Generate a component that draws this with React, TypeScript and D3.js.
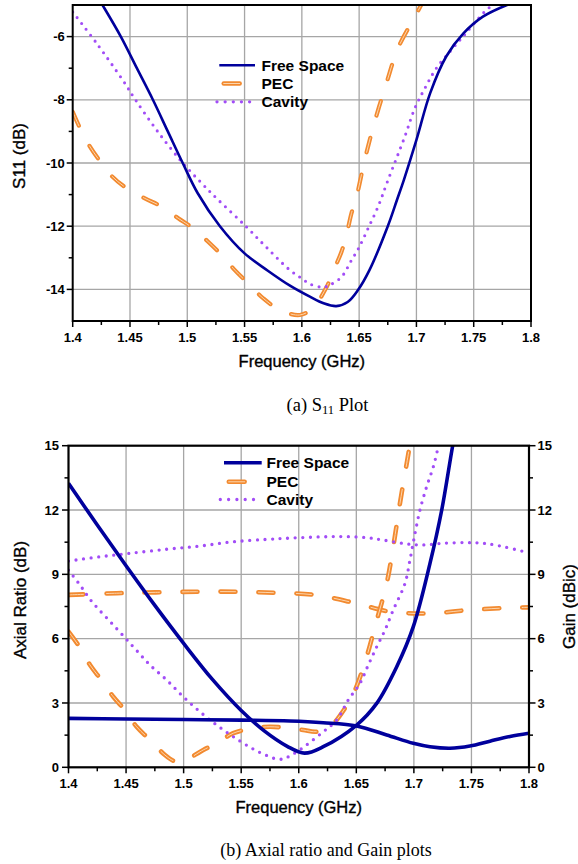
import React from 'react';
import * as d3 from 'd3';

type Pt = [number, number];

// ---------- tick definitions ----------
const xTickValues = [1.4, 1.45, 1.5, 1.55, 1.6, 1.65, 1.7, 1.75, 1.8];
const xTickLabels = ["1.4", "1.45", "1.5", "1.55", "1.6", "1.65", "1.7", "1.75", "1.8"];
const xMinorTicks = [1.425, 1.475, 1.525, 1.575, 1.625, 1.675, 1.725, 1.775];
const s11TickValues = [-6, -8, -10, -12, -14];
const s11TickLabels = ["-6", "-8", "-10", "-12", "-14"];
const s11MinorTicks = [-7, -9, -11, -13];
const arTickValues = [0, 3, 6, 9, 12, 15];
const arTickLabels = ["0", "3", "6", "9", "12", "15"];
const arMinorTicks = [1.5, 4.5, 7.5, 10.5, 13.5];
const legendLabels = ["Free Space", "PEC", "Cavity"];

// ---------- (a) S11 data ----------
const s11FreeSpace: Pt[] = [
  [1.40, -3.4], [1.41, -4.05], [1.426, -5.0], [1.442, -6.0], [1.456, -7.0], [1.470, -8.0],
  [1.483, -9.0], [1.496, -10.0], [1.509, -10.95], [1.5285, -12.0], [1.55, -12.86], [1.57, -13.4],
  [1.59, -13.89], [1.607, -14.23], [1.619, -14.44], [1.630, -14.53], [1.640, -14.4], [1.649, -14.02],
  [1.659, -13.39], [1.675, -12.0], [1.683, -11.17], [1.689, -10.54], [1.700, -9.27], [1.712, -7.79],
  [1.726, -6.63], [1.741, -5.9], [1.758, -5.37], [1.779, -5.0], [1.80, -4.75],
];
const s11PEC: Pt[] = [
  [1.40, -8.38], [1.4064, -8.9], [1.4145, -9.45], [1.4238, -9.94], [1.434, -10.41], [1.4471, -10.8],
  [1.463, -11.12], [1.4776, -11.38], [1.4921, -11.75], [1.5052, -12.07], [1.5182, -12.49],
  [1.5299, -12.91], [1.5415, -13.39], [1.5531, -13.81], [1.5662, -14.28], [1.5808, -14.65],
  [1.5982, -14.81], [1.6098, -14.58], [1.6215, -13.93], [1.6272, -13.44], [1.6346, -12.81],
  [1.6389, -12.28], [1.6433, -11.59], [1.6477, -11.07], [1.6549, -9.9], [1.6636, -8.69],
  [1.6738, -7.48], [1.6839, -6.37], [1.70, -5.28], [1.71, -4.6],
];
const s11Cavity: Pt[] = [
  [1.40, -5.22], [1.4209, -6.21], [1.4441, -7.4], [1.4544, -7.98], [1.4733, -8.96], [1.4951, -9.96],
  [1.5126, -10.64], [1.5257, -11.12], [1.551, -12.0], [1.57, -12.7], [1.5896, -13.39], [1.5998, -13.65],
  [1.607, -13.83], [1.6186, -13.93], [1.6245, -13.86], [1.6347, -13.6], [1.6434, -13.07],
  [1.6492, -12.72], [1.6578, -12.07], [1.6665, -11.38], [1.6752, -10.54], [1.6898, -9.17],
  [1.6986, -8.27], [1.7073, -7.64], [1.7174, -7.0], [1.7305, -6.42], [1.7406, -6.0], [1.7493, -5.63],
  [1.761, -5.16], [1.7668, -5.0], [1.78, -4.7],
];

// ---------- (b) Axial ratio data ----------
const arFreeSpace: Pt[] = [
  [1.40, 13.25], [1.425, 11.3], [1.45, 9.4], [1.475, 7.55], [1.50, 5.78], [1.525, 4.1],
  [1.55, 2.65], [1.57, 1.7], [1.59, 0.98], [1.605, 0.66], [1.6213, 0.96],
  [1.6503, 1.97], [1.6677, 2.98], [1.6851, 4.69], [1.6995, 6.56], [1.714, 9.51], [1.7242, 12.0],
  [1.7337, 15.0], [1.74, 16.8],
];
const arPEC: Pt[] = [
  [1.40, 6.33], [1.4085, 5.7], [1.4187, 4.77], [1.4274, 4.15], [1.4389, 3.29], [1.4476, 2.75],
  [1.4592, 1.89], [1.4693, 1.35], [1.4838, 0.57], [1.491, 0.31], [1.4983, 0.26], [1.5171, 0.81],
  [1.5287, 1.12], [1.5431, 1.59], [1.5605, 1.82], [1.575, 1.89], [1.5924, 1.82], [1.6039, 1.74],
  [1.6156, 1.66], [1.6271, 1.89], [1.6401, 2.75], [1.6489, 3.6], [1.659, 5.16], [1.6662, 6.56],
  [1.6764, 8.58], [1.6821, 10.29], [1.6879, 12.31], [1.6938, 14.18], [1.698, 15.5],
];
const arCavity: Pt[] = [
  [1.40, 9.2], [1.41, 8.5], [1.42, 7.75], [1.4389, 6.64], [1.4563, 5.62], [1.4708, 4.77],
  [1.4853, 4.07], [1.4997, 3.29], [1.5142, 2.59], [1.5287, 1.97], [1.5431, 1.43], [1.5591, 0.89],
  [1.5722, 0.55], [1.5837, 0.37], [1.5953, 0.62], [1.6213, 1.66], [1.633, 2.21], [1.643, 3.14],
  [1.6532, 3.92], [1.6604, 4.77], [1.6677, 5.62], [1.6749, 6.4], [1.6821, 7.34], [1.6923, 8.58],
  [1.6966, 9.67], [1.701, 10.91], [1.7053, 12.0], [1.7111, 13.09], [1.7169, 14.02], [1.7212, 14.95],
  [1.725, 15.8],
];

// ---------- (b) Gain data ----------
const gainFreeSpace: Pt[] = [
  [1.40, 2.28], [1.45, 2.25], [1.50, 2.23], [1.55, 2.2], [1.5924, 2.16], [1.6213, 2.08],
  [1.6503, 1.93], [1.6764, 1.51], [1.6995, 1.12], [1.714, 0.96], [1.7313, 0.89], [1.7487, 0.99],
  [1.7661, 1.22], [1.7835, 1.44], [1.80, 1.59],
];
const gainPEC: Pt[] = [
  [1.40, 8.04], [1.4419, 8.12], [1.4757, 8.16], [1.5114, 8.19], [1.5452, 8.19], [1.5794, 8.14],
  [1.6141, 8.04], [1.6474, 7.68], [1.6793, 7.26], [1.714, 7.18], [1.7487, 7.34], [1.7835, 7.44],
  [1.80, 7.46],
];
const gainCavity: Pt[] = [
  [1.40, 9.62], [1.4274, 9.82], [1.4534, 9.98], [1.4853, 10.17], [1.5142, 10.32], [1.5431, 10.52],
  [1.5722, 10.63], [1.5924, 10.69], [1.6213, 10.75], [1.6401, 10.76], [1.659, 10.71], [1.6734, 10.6],
  [1.6938, 10.42], [1.7082, 10.37], [1.7256, 10.45], [1.7459, 10.48], [1.7603, 10.45],
  [1.7777, 10.29], [1.80, 10.0],
];

const FS_COLOR = "#00009C";
const PEC_COLOR = "#F28A30";
const PEC_INNER = "#FCD6AE";
const CAV_COLOR = "#A24DF7";
const GRID = "#A6A6A6";
const SANS = "'Liberation Sans', Arial, sans-serif";
const SERIF = "'Liberation Serif', 'Times New Roman', serif";

type Box = { L: number; R: number; T: number; B: number };

function PecPath({ d, w }: { d: string; w: number }) {
  return (
    <g>
      <path d={d} fill="none" stroke={PEC_COLOR} strokeWidth={w} strokeDasharray="15 23" strokeLinecap="round" />
      <path d={d} fill="none" stroke={PEC_INNER} strokeWidth={1} strokeDasharray="15 23" strokeLinecap="round" />
    </g>
  );
}

function Legend({ lineX1, lineX2, pecX1, pecX2, dotX1, dotX2, textX, baselines, fsW, dotStep }:
  { lineX1: number; lineX2: number; pecX1: number; pecX2: number; dotX1: number; dotX2: number; textX: number; baselines: number[]; fsW: number; dotStep: number }) {
  const ly = baselines.map((b) => b - 5.5);
  return (
    <g>
      <line x1={lineX1} x2={lineX2} y1={ly[0]} y2={ly[0]} stroke={FS_COLOR} strokeWidth={fsW} />
      <line x1={pecX1 + 2} x2={pecX2 - 2} y1={ly[1]} y2={ly[1]} stroke={PEC_COLOR} strokeWidth={4.4} strokeLinecap="round" />
      <line x1={pecX1 + 2} x2={pecX2 - 2} y1={ly[1]} y2={ly[1]} stroke={PEC_INNER} strokeWidth={1} strokeLinecap="round" />
      <line x1={dotX1} x2={dotX2 + 0.5} y1={ly[2]} y2={ly[2]} stroke={CAV_COLOR} strokeWidth={3.3} strokeDasharray={`0 ${dotStep}`} strokeLinecap="round" />
      {legendLabels.map((t, i) => (
        <text key={t} x={textX} y={baselines[i]} fontFamily={SANS} fontWeight="bold" fontSize={15.5} fill="#000">{t}</text>
      ))}
    </g>
  );
}

export default function App() {
  const top: Box = { L: 72.7, R: 531, T: 5, B: 321 };
  const bot: Box = { L: 68.5, R: 529, T: 445.7, B: 767.3 };

  const xTop = d3.scaleLinear().domain([1.4, 1.8]).range([top.L, top.R]);
  const yTop = d3.scaleLinear().domain([-15, -5]).range([top.B, top.T]);
  const xBot = d3.scaleLinear().domain([1.4, 1.8]).range([bot.L, bot.R]);
  const yBot = d3.scaleLinear().domain([0, 15]).range([bot.B, bot.T]);

  const curve = d3.curveCatmullRom.alpha(0.5);
  const lineTop = d3.line<Pt>().x((d) => xTop(d[0])).y((d) => yTop(d[1])).curve(curve);
  const lineBot = d3.line<Pt>().x((d) => xBot(d[0])).y((d) => yBot(d[1])).curve(curve);

  const tickFont = { fontFamily: SANS, fontWeight: 'bold' as const, fontSize: 13 };
  const titleFont = { fontFamily: SANS, stroke: '#000', strokeWidth: 0.35 };

  return (
    <svg width={578} height={864} style={{ position: 'absolute', left: 0, top: 0, background: '#fff' }}>
      <defs>
        <clipPath id="clipTop"><rect x={top.L} y={top.T} width={top.R - top.L} height={top.B - top.T} /></clipPath>
        <clipPath id="clipBot"><rect x={bot.L} y={bot.T} width={bot.R - bot.L} height={bot.B - bot.T} /></clipPath>
      </defs>
      <rect x={0} y={0} width={578} height={864} fill="#fff" />

      {/* ================= (a) S11 ================= */}
      <g>
        {xTickValues.slice(1, -1).map((v) => (
          <line key={'gx' + v} x1={xTop(v)} x2={xTop(v)} y1={top.T} y2={top.B} stroke={GRID} strokeWidth={1.3} />
        ))}
        {s11TickValues.map((v) => (
          <line key={'gy' + v} x1={top.L} x2={top.R} y1={yTop(v)} y2={yTop(v)} stroke={GRID} strokeWidth={1.3} />
        ))}
        <Legend lineX1={219.3} lineX2={255} pecX1={221.7} pecX2={241.7} dotX1={217} dotX2={249.3} textX={261.5}
          baselines={[70.7, 89, 107.3]} fsW={2.6} dotStep={8.15} />
        <g clipPath="url(#clipTop)">
          <PecPath d={lineTop(s11PEC) || ''} w={4.2} />
          <path d={lineTop(s11Cavity) || ''} fill="none" stroke={CAV_COLOR} strokeWidth={3.1} strokeDasharray="0 7.3" strokeLinecap="round" />
          <path d={lineTop(s11FreeSpace) || ''} fill="none" stroke={FS_COLOR} strokeWidth={2.6} />
        </g>
        <rect x={top.L} y={top.T} width={top.R - top.L} height={top.B - top.T} fill="none" stroke="#000" strokeWidth={2} />
        {xTickValues.map((v, i) => (
          <g key={'xt' + v}>
            <line x1={xTop(v)} x2={xTop(v)} y1={top.B} y2={top.B + 6} stroke="#000" strokeWidth={1.5} />
            <text x={xTop(v)} y={341.7} textAnchor="middle" {...tickFont}>{xTickLabels[i]}</text>
          </g>
        ))}
        {xMinorTicks.map((v) => (
          <line key={'xm' + v} x1={xTop(v)} x2={xTop(v)} y1={top.B} y2={top.B + 4} stroke="#000" strokeWidth={1.5} />
        ))}
        {s11TickValues.map((v, i) => (
          <g key={'yt' + v}>
            <line x1={top.L - 6} x2={top.L} y1={yTop(v)} y2={yTop(v)} stroke="#000" strokeWidth={1.5} />
            <text x={top.L - 8} y={yTop(v)} dy="0.36em" textAnchor="end" {...tickFont}>{s11TickLabels[i]}</text>
          </g>
        ))}
        {s11MinorTicks.map((v) => (
          <line key={'ym' + v} x1={top.L - 4} x2={top.L} y1={yTop(v)} y2={yTop(v)} stroke="#000" strokeWidth={1.5} />
        ))}
        <text transform={`translate(24.5,156) rotate(-90)`} textAnchor="middle" fontSize={17} {...titleFont}>S11 (dB)</text>
        <text x={(top.L + top.R) / 2} y={366.7} textAnchor="middle" fontSize={16.5} {...titleFont}>Frequency (GHz)</text>
        <text x={327.5} y={410.5} textAnchor="middle" fontFamily={SERIF} fontSize={18.5}>
          (a) S<tspan fontSize={12.5} dy={3}>11</tspan><tspan dy={-3}> Plot</tspan>
        </text>
      </g>

      {/* ================= (b) AR & Gain ================= */}
      <g>
        {xTickValues.slice(1, -1).map((v) => (
          <line key={'bgx' + v} x1={xBot(v)} x2={xBot(v)} y1={bot.T} y2={bot.B} stroke={GRID} strokeWidth={1.3} />
        ))}
        {arTickValues.slice(1, -1).map((v) => (
          <line key={'bgy' + v} x1={bot.L} x2={bot.R} y1={yBot(v)} y2={yBot(v)} stroke={GRID} strokeWidth={1.3} />
        ))}
        <Legend lineX1={224} lineX2={261.7} pecX1={226.7} pecX2={246.7} dotX1={220.3} dotX2={253.3} textX={266.5}
          baselines={[468.3, 487.3, 505]} fsW={3.6} dotStep={8.3} />
        <g clipPath="url(#clipBot)">
          <PecPath d={lineBot(gainPEC) || ''} w={4.6} />
          <PecPath d={lineBot(arPEC) || ''} w={4.6} />
          <path d={lineBot(gainCavity) || ''} fill="none" stroke={CAV_COLOR} strokeWidth={3.3} strokeDasharray="0 7.6" strokeLinecap="round" />
          <path d={lineBot(arCavity) || ''} fill="none" stroke={CAV_COLOR} strokeWidth={3.3} strokeDasharray="0 7.6" strokeLinecap="round" />
          <path d={lineBot(gainFreeSpace) || ''} fill="none" stroke={FS_COLOR} strokeWidth={3.6} />
          <path d={lineBot(arFreeSpace) || ''} fill="none" stroke={FS_COLOR} strokeWidth={3.6} />
        </g>
        <rect x={bot.L} y={bot.T} width={bot.R - bot.L} height={bot.B - bot.T} fill="none" stroke="#000" strokeWidth={2.2} />
        {xTickValues.map((v, i) => (
          <g key={'bxt' + v}>
            <line x1={xBot(v)} x2={xBot(v)} y1={bot.B} y2={bot.B + 6} stroke="#000" strokeWidth={1.5} />
            <text x={xBot(v)} y={788} textAnchor="middle" {...tickFont}>{xTickLabels[i]}</text>
          </g>
        ))}
        {xMinorTicks.map((v) => (
          <line key={'bxm' + v} x1={xBot(v)} x2={xBot(v)} y1={bot.B} y2={bot.B + 4} stroke="#000" strokeWidth={1.5} />
        ))}
        {arTickValues.map((v, i) => (
          <g key={'byt' + v}>
            <line x1={bot.L - 6.5} x2={bot.L} y1={yBot(v)} y2={yBot(v)} stroke="#000" strokeWidth={1.5} />
            <text x={bot.L - 9.5} y={yBot(v)} dy="0.36em" textAnchor="end" {...tickFont}>{arTickLabels[i]}</text>
            <line x1={bot.R} x2={bot.R + 6.5} y1={yBot(v)} y2={yBot(v)} stroke="#000" strokeWidth={1.5} />
            <text x={bot.R + 8.5} y={yBot(v)} dy="0.36em" textAnchor="start" {...tickFont}>{arTickLabels[i]}</text>
          </g>
        ))}
        {arMinorTicks.map((v) => (
          <g key={'bym' + v}>
            <line x1={bot.L - 4} x2={bot.L} y1={yBot(v)} y2={yBot(v)} stroke="#000" strokeWidth={1.5} />
            <line x1={bot.R} x2={bot.R + 4} y1={yBot(v)} y2={yBot(v)} stroke="#000" strokeWidth={1.5} />
          </g>
        ))}
        <text transform={`translate(26,600) rotate(-90)`} textAnchor="middle" fontSize={17} {...titleFont}>Axial Ratio (dB)</text>
        <text transform={`translate(574.5,606.5) rotate(-90)`} textAnchor="middle" fontSize={17} {...titleFont}>Gain (dBic)</text>
        <text x={(bot.L + bot.R) / 2} y={813} textAnchor="middle" fontSize={16.5} {...titleFont}>Frequency (GHz)</text>
        <text x={326} y={856} textAnchor="middle" fontFamily={SERIF} fontSize={18}>(b) Axial ratio and Gain plots</text>
      </g>
    </svg>
  );
}
